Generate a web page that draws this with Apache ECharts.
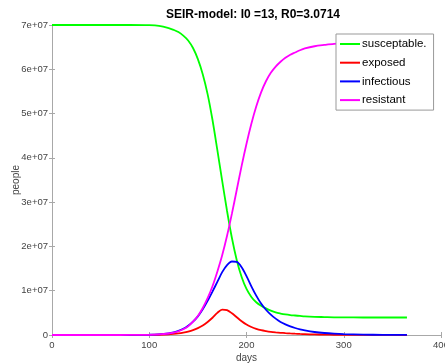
<!DOCTYPE html>
<html>
<head>
<meta charset="utf-8">
<script src="https://cdn.jsdelivr.net/npm/echarts@6/dist/echarts.min.js"></script>
<style>
  html, body { margin: 0; padding: 0; background: #fff; }
  #main { width: 445px; height: 363px; }
</style>
</head>
<body>
<div id="main"></div>
<script>
// SEIR curves, values (millions of people)
var days = [0, 20, 40, 60, 80, 100, 110, 120, 125, 130, 135, 140, 145, 150, 155, 160, 165, 170, 175, 180,
    185, 190, 195, 200, 205, 210, 215, 220, 225, 230, 235, 240, 245, 250, 255, 260, 270, 280, 290, 300, 320, 340, 365];
var susceptable = [70, 70, 70, 70, 70, 69.95, 69.8, 69.3, 68.9, 68.4, 67.6, 66.5, 64.8, 62.3, 58.9, 54.4, 48.6, 41.8, 34.8, 28.0,
    21.9, 16.9, 13.1, 10.4, 8.6, 7.4, 6.6, 6.0, 5.5, 5.1, 4.85, 4.65, 4.5, 4.4, 4.3, 4.2, 4.1, 4.05, 4.0, 4.0, 3.95, 3.95, 3.95];
var exposed = [0, 0, 0, 0.0005, 0.004, 0.025, 0.06, 0.15, 0.24, 0.36, 0.54, 0.78, 1.1, 1.55, 2.15, 2.95, 3.9, 5.0, 5.75, 5.6,
    4.9, 4.0, 3.1, 2.35, 1.8, 1.38, 1.08, 0.88, 0.72, 0.6, 0.5, 0.42, 0.35, 0.29, 0.24, 0.2, 0.13, 0.09, 0.06, 0.04, 0.02, 0.01, 0.004];
var infectious = [0, 0, 0, 0.001, 0.01, 0.06, 0.15, 0.38, 0.6, 0.92, 1.4, 2.1, 3.0, 4.2, 5.8, 7.7, 9.8, 12.0, 14.2, 15.8,
    16.6, 16.5, 15.3, 13.3, 11.0, 8.9, 7.1, 5.7, 4.6, 3.7, 2.95, 2.4, 1.95, 1.58, 1.27, 1.03, 0.68, 0.45, 0.3, 0.2, 0.09, 0.04, 0.015];
var resistant = [0, 0, 0, 0.001, 0.01, 0.05, 0.13, 0.34, 0.55, 0.85, 1.3, 1.95, 3.0, 4.3, 6.1, 8.3, 11.0, 14.3, 18.0, 22.4,
    27.4, 32.8, 38.2, 43.2, 47.7, 51.6, 54.8, 57.3, 59.2, 60.6, 61.7, 62.6, 63.3, 63.8, 64.3, 64.7, 65.2, 65.5, 65.75, 65.85, 65.95, 66.0, 66.0];

var yMax = 7e7;

//把(天, 百万)组合成系列数据
function toSeries(vals) {
    var out = [];
    for (var i = 0; i < days.length; i++) {
        out.push([days[i], vals[i] * 1e6]);
    }
    return out;
}

function makeLine(name, color, vals) {
    return {
        name: name,
        type: 'line',
        symbol: 'none',
        smooth: 0.3,
        data: toSeries(vals),
        lineStyle: { color: color, width: 1.8 },
        itemStyle: { color: color }
    };
}

var axisGray = '#a8a8a8';
var fontName = 'Liberation Sans, Arial, sans-serif';
var labelFont = { fontFamily: fontName, fontSize: 9.5, color: '#444' };
var tickStyle = { show: true, inside: true, length: 3, lineStyle: { color: axisGray } };

var chart = echarts.init(document.getElementById('main'), null, { renderer: 'canvas' });
var option = {
    backgroundColor: '#ffffff',
    animation: false,
    title: {
        text: 'SEIR-model: I0 =13, R0=3.0714',
        left: 248,
        textAlign: 'center',
        top: 4,
        textStyle: { fontFamily: fontName, fontSize: 12, fontWeight: 'bold', color: '#000' }
    },
    grid: { left: 52, right: 4, top: 25, bottom: 28, containLabel: false, outerBoundsMode: 'none' },
    legend: {
        orient: 'vertical',
        left: 336,
        top: 34,
        padding: [3, 7, 3, 4],
        icon: 'rect',
        itemWidth: 20,
        itemHeight: 2,
        itemGap: 4.7,
        backgroundColor: '#fff',
        borderColor: '#999',
        borderWidth: 1,
        borderRadius: 0,
        textStyle: { fontFamily: fontName, fontSize: 11.5, color: '#000', lineHeight: 14, padding: [0, 0, 0, -3] },
        data: ['susceptable.', 'exposed', 'infectious', 'resistant']
    },
    xAxis: [{
        type: 'value',
        min: 0,
        max: 400,
        interval: 100,
        name: 'days',
        nameLocation: 'middle',
        nameGap: 18,
        nameMoveOverlap: false,
        nameTextStyle: { fontFamily: fontName, fontSize: 10, color: '#444' },
        axisLine: { show: true, lineStyle: { color: axisGray } },
        axisTick: tickStyle,
        axisLabel: Object.assign({ margin: 5 }, labelFont),
        splitLine: { show: false }
    }, {
        type: 'value',
        position: 'top',
        min: 0,
        max: 400,
        interval: 100,
        axisLine: { show: true, lineStyle: { color: axisGray } },
        axisTick: tickStyle,
        axisLabel: { show: false },
        splitLine: { show: false }
    }],
    yAxis: [{
        type: 'value',
        min: 0,
        max: yMax,
        interval: 1e7,
        name: 'people',
        nameLocation: 'middle',
        nameGap: 31,
        nameMoveOverlap: false,
        nameTextStyle: { fontFamily: fontName, fontSize: 10, color: '#444' },
        axisLine: { show: true, lineStyle: { color: axisGray } },
        axisTick: tickStyle,
        axisLabel: Object.assign({
            margin: 4,
            formatter: function (v) {
                if (v === 0) return '0';
                return Math.round(v / 1e7) + 'e+07';
            }
        }, labelFont),
        splitLine: { show: false }
    }, {
        type: 'value',
        position: 'right',
        min: 0,
        max: yMax,
        interval: 1e7,
        axisLine: { show: true, lineStyle: { color: axisGray } },
        axisTick: tickStyle,
        axisLabel: { show: false },
        splitLine: { show: false }
    }],
    series: [
        makeLine('susceptable.', '#00ff00', susceptable),
        makeLine('exposed', '#ff0000', exposed),
        makeLine('infectious', '#0000ff', infectious),
        makeLine('resistant', '#ff00ff', resistant)
    ]
};
chart.setOption(option);
</script>
</body>
</html>
